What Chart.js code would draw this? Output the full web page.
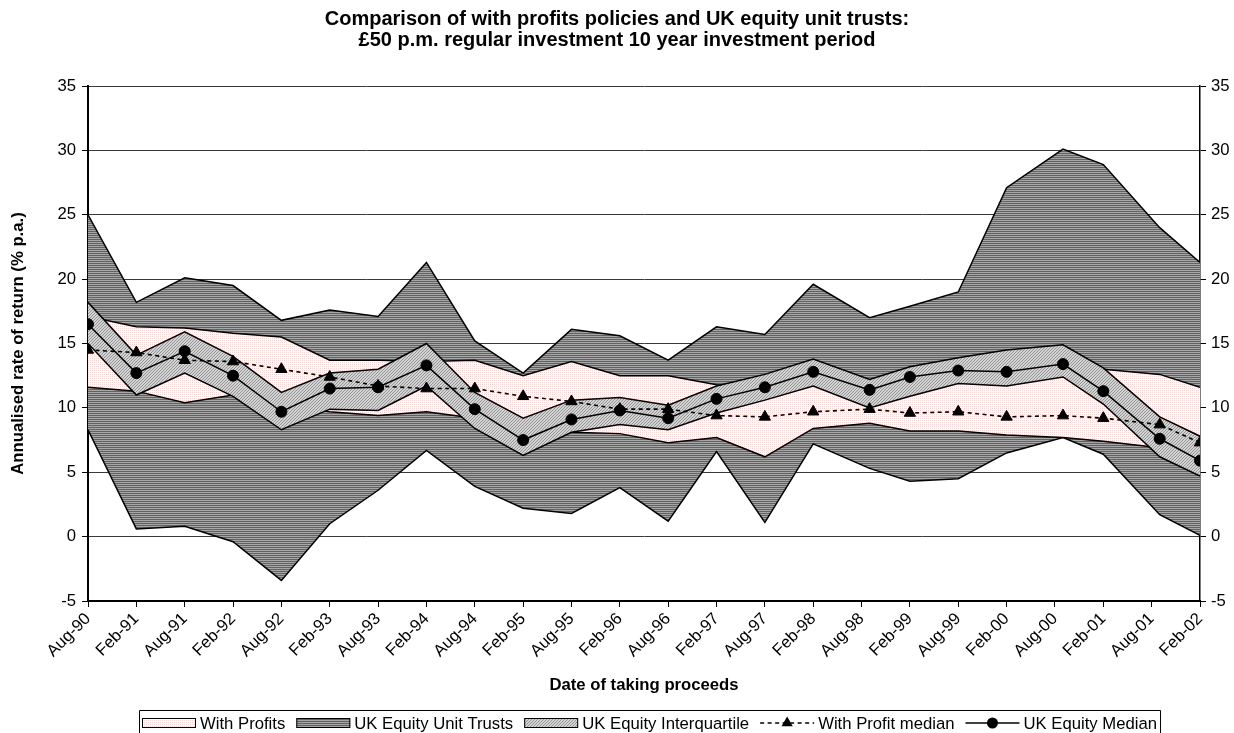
<!DOCTYPE html>
<html>
<head>
<meta charset="utf-8">
<title>With profits vs UK equity unit trusts</title>
<script src="https://cdn.jsdelivr.net/npm/chart.js@4.4.0/dist/chart.umd.min.js"></script>
<style>
  html, body { margin: 0; padding: 0; background: #fff; }
  #wrap { width: 1234px; height: 733px; }
</style>
</head>
<body>
<div id="wrap"><canvas id="chart" width="1234" height="733"></canvas></div>
<script>
// tick labels, one every 6 months starting Aug-90
const dateLabels = ['Aug-90', 'Feb-91', 'Aug-91', 'Feb-92', 'Aug-92', 'Feb-93', 'Aug-93', 'Feb-94',
  'Aug-94', 'Feb-95', 'Aug-95', 'Feb-96', 'Aug-96', 'Feb-97', 'Aug-97', 'Feb-98',
  'Aug-98', 'Feb-99', 'Aug-99', 'Feb-00', 'Aug-00', 'Feb-01', 'Aug-01', 'Feb-02'];

// date of each observation, months after Aug-90 (a few fall in September)
const months = [0, 6, 12, 18, 24, 30, 36, 42, 48, 54, 60, 66, 72, 78, 84, 90, 97, 102, 108, 114, 121, 126, 133, 138];

// UK equity unit trusts, best and worst
const utMax = [25.0, 18.2, 20.1, 19.5, 16.8, 17.6, 17.1, 21.3, 15.2, 12.7, 16.1, 15.6, 13.7, 16.3, 15.7, 19.6, 17.0, 17.9, 19.0, 27.1, 30.1, 28.9, 24.0, 21.3];
const utMin = [8.3, 0.6, 0.8, -0.4, -3.4, 1.0, 3.6, 6.7, 3.9, 2.2, 1.8, 3.8, 1.2, 6.6, 1.1, 7.2, 5.3, 4.3, 4.5, 6.5, 7.7, 6.4, 1.7, 0.1];

// with profits, best and worst
const wpMax = [17.1, 16.3, 16.2, 15.8, 15.5, 13.7, 13.7, 13.6, 13.7, 12.5, 13.6, 12.5, 12.5, 11.8, 11.5, 12.0, 12.0, 12.2, 12.5, 12.6, 12.8, 13.0, 12.6, 11.6];
const wpMin = [11.6, 11.3, 10.4, 11.0, 10.2, 9.7, 9.4, 9.7, 9.2, 8.6, 8.1, 8.0, 7.3, 7.7, 6.2, 8.4, 8.8, 8.2, 8.2, 7.9, 7.7, 7.4, 6.9, 6.6];

// UK equity interquartile range
const iqHi = [18.2, 14.1, 15.9, 14.0, 11.2, 12.7, 13.0, 15.0, 11.2, 9.2, 10.6, 10.8, 10.2, 11.7, 12.6, 13.8, 12.2, 13.2, 13.9, 14.5, 14.9, 13.1, 9.3, 7.8];
const iqLo = [15.0, 11.0, 12.7, 10.9, 8.3, 9.9, 9.8, 11.7, 8.4, 6.3, 8.1, 8.7, 8.3, 9.6, 10.6, 11.7, 10.0, 10.9, 11.9, 11.7, 12.4, 10.3, 6.2, 4.7];

// medians
const wpMedian = [14.5, 14.3, 13.7, 13.6, 13.0, 12.4, 11.7, 11.5, 11.5, 10.9, 10.5, 9.9, 9.9, 9.4, 9.3, 9.7, 9.9, 9.6, 9.7, 9.3, 9.4, 9.2, 8.7, 7.3];
const ukMedian = [16.5, 12.7, 14.4, 12.5, 9.7, 11.5, 11.6, 13.3, 9.9, 7.5, 9.1, 9.8, 9.2, 10.7, 11.6, 12.8, 11.4, 12.4, 12.9, 12.8, 13.4, 11.3, 7.6, 5.9];

const FONT = '"Liberation Sans", Arial, sans-serif';

function makePattern(w, h, paint) {
  const c = document.createElement('canvas');
  c.width = w;
  c.height = h;
  const g = c.getContext('2d');
  paint(g);
  return g.createPattern(c, 'repeat');
}

// horizontal dark/mid grey stripes
const stripeFill = makePattern(1, 2, g => {
  g.fillStyle = '#a6a6a6'; g.fillRect(0, 0, 1, 1);
  g.fillStyle = '#626262'; g.fillRect(0, 1, 1, 1);
});
// faint pink dots on white
const dotFill = makePattern(2, 2, g => {
  g.fillStyle = '#ffffff'; g.fillRect(0, 0, 2, 2);
  g.fillStyle = '#f8d6d6'; g.fillRect(0, 0, 1, 1);
});
// light grey with diagonal hatching
const hatchFill = makePattern(3, 3, g => {
  g.fillStyle = '#d4d4d4'; g.fillRect(0, 0, 3, 3);
  g.fillStyle = '#939393';
  for (let i = 0; i < 3; i++) g.fillRect(i, 2 - i, 1, 1);
});

function series(values) {
  return values.map((v, i) => ({ x: months[i], y: v }));
}

function edge(values, extra) {
  return Object.assign({
    data: series(values),
    borderColor: '#000',
    borderWidth: 1.5,
    pointRadius: 0,
    pointHoverRadius: 0,
    tension: 0,
    fill: false
  }, extra);
}

// boxed legend along the bottom, drawn from the datasets
const legendPlugin = {
  id: 'boxLegend',
  afterDraw(chart) {
    const ctx = chart.ctx;
    const items = chart.data.datasets.filter(d => d.legendRank).sort((a, b) => a.legendRank - b.legendRank);
    const symW = 54, left = 139, top = 710, mid = 723;
    ctx.save();
    ctx.font = '16.7px ' + FONT;
    ctx.textBaseline = 'middle';
    ctx.textAlign = 'left';
    let x = left + 3;
    items.forEach(d => {
      ctx.strokeStyle = '#000';
      if (d.fill) {
        ctx.fillStyle = d.backgroundColor;
        ctx.fillRect(x, mid - 5, symW, 10);
        ctx.lineWidth = 1;
        ctx.strokeRect(x + 0.5, mid - 4.5, symW - 1, 9);
      } else {
        ctx.lineWidth = d.borderWidth;
        ctx.setLineDash(d.borderDash || []);
        ctx.beginPath();
        ctx.moveTo(x, mid);
        ctx.lineTo(x + symW, mid);
        ctx.stroke();
        ctx.setLineDash([]);
        const cx = x + symW / 2, r = d.pointRadius;
        ctx.fillStyle = '#000';
        ctx.beginPath();
        if (d.pointStyle === 'triangle') {
          ctx.moveTo(cx, mid - r);
          ctx.lineTo(cx + r * 0.866, mid + r / 2);
          ctx.lineTo(cx - r * 0.866, mid + r / 2);
          ctx.closePath();
        } else {
          ctx.arc(cx, mid, r, 0, Math.PI * 2);
        }
        ctx.fill();
      }
      x += symW + 4;
      ctx.fillStyle = '#000';
      ctx.fillText(d.label, x, mid + 1);
      x += ctx.measureText(d.label).width + 11;
    });
    const right = x - 8;
    ctx.strokeStyle = '#000';
    ctx.lineWidth = 1;
    ctx.beginPath();
    ctx.moveTo(left + 0.5, 740);
    ctx.lineTo(left + 0.5, top + 0.5);
    ctx.lineTo(right + 0.5, top + 0.5);
    ctx.lineTo(right + 0.5, 740);
    ctx.stroke();
    ctx.restore();
  }
};

Chart.defaults.font.family = FONT;
Chart.defaults.color = '#000';

new Chart(document.getElementById('chart'), {
  type: 'line',
  data: {
    datasets: [
      edge(utMax, { label: 'UK Equity Unit Trusts', legendRank: 2, fill: '+1', backgroundColor: stripeFill, order: 8 }),
      edge(utMin, { label: '', order: 7 }),
      edge(wpMax, { label: 'With Profits', legendRank: 1, fill: '+1', backgroundColor: dotFill, order: 6 }),
      edge(wpMin, { label: '', order: 5 }),
      edge(iqHi, { label: 'UK Equity Interquartile', legendRank: 3, fill: '+1', backgroundColor: hatchFill, order: 4 }),
      edge(iqLo, { label: '', order: 3 }),
      edge(wpMedian, {
        label: 'With Profit median', legendRank: 4, order: 2,
        borderWidth: 1.6, borderDash: [4, 3.5],
        pointStyle: 'triangle', pointRadius: 6.5, pointBackgroundColor: '#000', pointBorderColor: '#000', pointBorderWidth: 1
      }),
      edge(ukMedian, {
        label: 'UK Equity Median', legendRank: 5, order: 1,
        pointStyle: 'circle', pointRadius: 5.5, pointBackgroundColor: '#000', pointBorderColor: '#000', pointBorderWidth: 1
      })
    ]
  },
  options: {
    responsive: false,
    animation: false,
    devicePixelRatio: 1,
    layout: { padding: { left: 0, right: 0, top: 0, bottom: 30 } },
    plugins: {
      legend: { display: false },
      tooltip: { enabled: false },
      title: {
        display: true,
        text: ['Comparison of with profits policies and UK equity unit trusts:',
               '\u00a350 p.m. regular investment 10 year investment period'],
        font: { size: 20, weight: 'bold', lineHeight: 1.05 },
        color: '#000',
        padding: { top: 9, bottom: 35 }
      }
    },
    scales: {
      x: {
        type: 'linear',
        min: 0,
        max: 138,
        afterFit: s => { s.height = 102; },
        grid: { drawOnChartArea: false, drawTicks: true, tickLength: 6, tickColor: '#000' },
        border: { display: true, color: '#000', width: 2 },
        ticks: {
          stepSize: 6,
          autoSkip: false,
          minRotation: 45,
          maxRotation: 45,
          padding: 2,
          font: { size: 16.7 },
          callback: v => dateLabels[Math.round(v / 6)]
        },
        title: {
          display: true,
          text: 'Date of taking proceeds',
          font: { size: 16.7, weight: 'bold' },
          padding: { top: 0, bottom: 8 }
        }
      },
      y: {
        position: 'left',
        min: -5,
        max: 35,
        afterFit: s => { s.width = 88; },
        grid: { color: '#3a3a3a', lineWidth: 1, tickLength: 6, tickColor: '#000' },
        border: { display: true, color: '#000', width: 2 },
        ticks: { stepSize: 5, padding: 6, font: { size: 16.7 } },
        title: {
          display: true,
          text: 'Annualised rate of return (% p.a.)',
          font: { size: 16.7, weight: 'bold' },
          padding: { top: 8, bottom: 0 }
        }
      },
      y2: {
        position: 'right',
        min: -5,
        max: 35,
        afterFit: s => { s.width = 34; },
        grid: { drawOnChartArea: false, tickLength: 6, tickColor: '#000' },
        border: { display: true, color: '#000', width: 1.5 },
        ticks: { stepSize: 5, padding: 5, font: { size: 16.7 } }
      }
    }
  },
  plugins: [legendPlugin]
});
</script>
</body>
</html>
